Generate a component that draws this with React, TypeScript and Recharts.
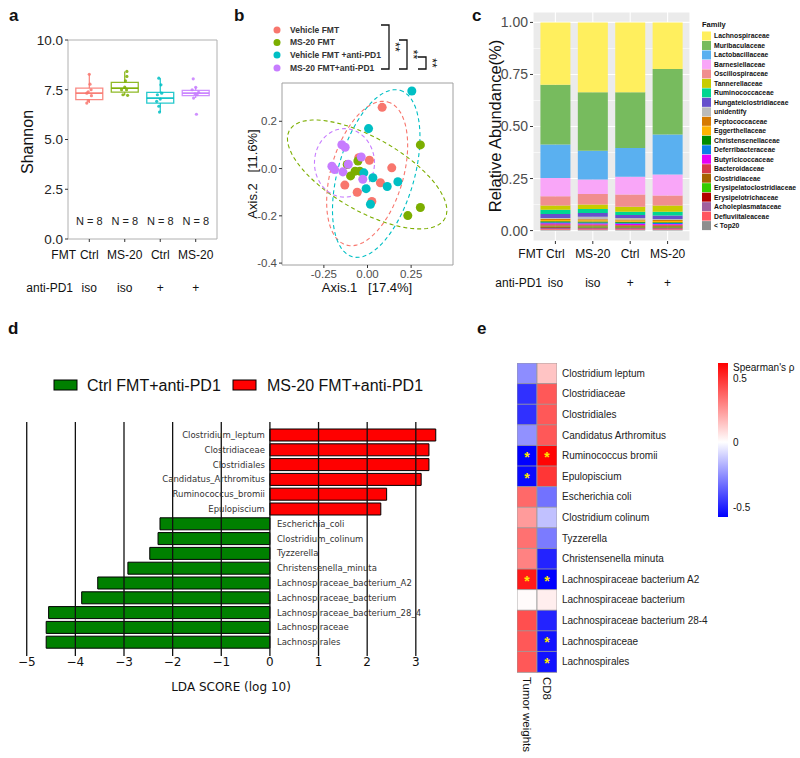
import React from 'react';
import {
  ComposedChart, ScatterChart, Scatter, BarChart, Bar, XAxis, YAxis, ZAxis,
  CartesianGrid, ReferenceArea, ReferenceLine, Cell, LabelList,
} from 'recharts';

const SANS = 'Liberation Sans, Arial, sans-serif';
const DEJAVU = 'DejaVu Sans, sans-serif';
const HUE = ['#F8766D', '#7CAE00', '#00BFC4', '#C77CFF'];

// ---------- a: Shannon diversity ----------
const fmtGroups = ['Ctrl', 'MS-20', 'Ctrl', 'MS-20'];
const pd1Groups = ['iso', 'iso', '+', '+'];
const shannonQ1 = [7.0, 7.38, 6.83, 7.2];
const shannonMed = [7.33, 7.58, 7.08, 7.33];
const shannonQ3 = [7.58, 7.87, 7.37, 7.47];
const shannonLo = [6.83, 7.22, 6.38, 7.08];
const shannonHi = [8.28, 8.42, 8.08, 7.62];
const groupN = [8, 8, 8, 8];
const shannonPts = [
  [8.28, 7.78, 7.5, 7.33, 7.2, 7.4, 6.95, 6.83],
  [8.42, 8.17, 7.95, 7.63, 7.5, 7.5, 7.25, 7.22],
  [8.08, 7.75, 7.33, 7.25, 7.03, 6.92, 6.67, 6.38],
  [8.05, 7.62, 7.5, 7.37, 7.3, 7.25, 7.08, 6.27],
];
const shannonJitter = [
  [0.0, 0.02, 0.05, -0.07, 0.06, -0.03, -0.03, -0.07],
  [0.06, 0.06, 0.02, 0.0, -0.09, 0.05, -0.05, 0.08],
  [-0.04, 0.02, 0.04, -0.08, 0.0, -0.1, -0.04, -0.02],
  [-0.07, 0.0, -0.1, 0.08, -0.02, 0.04, -0.06, 0.02],
];

// ---------- b: PCoA ----------
const pcoaGroups = ['Vehicle FMT', 'MS-20 FMT', 'Vehicle FMT +anti-PD1', 'MS-20 FMT+anti-PD1'];
const pcoaX = [
  [0.084, 0.011, 0.139, -0.13, -0.059, 0.074, 0.025, -0.05],
  [0.303, 0.303, 0.231, -0.055, -0.116, -0.097, -0.071, -0.044],
  [0.254, 0.006, -0.021, 0.031, -0.008, 0.017, 0.113, 0.174],
  [-0.147, -0.128, -0.204, -0.189, -0.11, -0.141, -0.036, -0.027],
];
const pcoaY = [
  [0.259, 0.035, 0.003, -0.07, -0.1, -0.06, -0.139, 0.046],
  [0.1, -0.165, -0.199, 0.032, 0.017, -0.031, -0.011, -0.011],
  [0.328, 0.169, -0.018, -0.039, -0.085, -0.151, -0.076, -0.056],
  [0.101, 0.09, 0.01, -0.004, 0.018, -0.014, 0.049, -0.045],
];
// dashed ellipses: centre and two conjugate half-axes, data units
const ellipseCentre = [[-0.002, -0.021], [-0.002, -0.025], [0.05, -0.021], [-0.132, 0.024]];
const ellipseU = [[0.118, 0.303], [0.448, -0.183], [0.137, 0.352], [0.172, 0]];
const ellipseV = [[0.2, -0.04], [-0.09, -0.14], [0.21, -0.045], [0, 0.145]];

// ---------- c: family composition ----------
const FAMILY = [
  'Lachnospiraceae', 'Muribaculaceae', 'Lactobacillaceae', 'Barnesiellaceae', 'Oscillospiraceae',
  'Tannerellaceae', 'Ruminococcaceae', 'Hungateiclostridiaceae', 'unidentify', 'Peptococcaceae',
  'Eggerthellaceae', 'Christensenellaceae', 'Deferribacteraceae', 'Butyricicoccaceae', 'Bacteroidaceae',
  'Clostridiaceae', 'Erysipelatoclostridiaceae', 'Erysipelotrichaceae', 'Acholeplasmataceae',
  'Defluviitaleaceae', '< Top20',
];
const FAMILY_COLORS = [
  '#FFEF5E', '#77BB5E', '#5AB0F0', '#F9A6F8', '#F08E8E', '#C8CC00', '#00D690', '#6650CC', '#BBBBBB',
  '#D67A00', '#FFB300', '#008B00', '#0A7FE6', '#E500F5', '#D63A4A', '#A56400', '#33CC00', '#B30000',
  '#A0609E', '#FF5560', '#8E8E8E',
];
const abundCtrlIso = [0.3, 0.287, 0.16, 0.088, 0.045, 0.02, 0.02, 0.019, 0.004, 0.006, 0.006, 0.005, 0.005, 0.004, 0.006, 0.005, 0.004, 0.004, 0.004, 0.004, 0.004];
const abundMs20Iso = [0.336, 0.28, 0.139, 0.069, 0.051, 0.021, 0.019, 0.018, 0.012, 0.005, 0.006, 0.005, 0.005, 0.005, 0.005, 0.004, 0.005, 0.004, 0.004, 0.004, 0.003];
const abundCtrlPd1 = [0.336, 0.267, 0.138, 0.086, 0.058, 0.024, 0.016, 0.014, 0.008, 0.005, 0.005, 0.005, 0.005, 0.006, 0.004, 0.004, 0.004, 0.004, 0.004, 0.004, 0.003];
const abundMs20Pd1 = [0.224, 0.315, 0.192, 0.101, 0.048, 0.029, 0.019, 0.016, 0.005, 0.005, 0.006, 0.004, 0.004, 0.004, 0.005, 0.004, 0.004, 0.004, 0.004, 0.004, 0.003];

// ---------- d: LEfSe ----------
const ldaTaxa = [
  'Clostridium_leptum', 'Clostridiaceae', 'Clostridiales', 'Candidatus_Arthromitus', 'Ruminococcus_bromii',
  'Epulopiscium', 'Escherichia_coli', 'Clostridium_colinum', 'Tyzzerella', 'Christensenella_minuta',
  'Lachnospiraceae_bacterium_A2', 'Lachnospiraceae_bacterium', 'Lachnospiraceae_bacterium_28_4',
  'Lachnospiraceae', 'Lachnospirales',
];
const ldaScores = [3.41, 3.27, 3.27, 3.11, 2.4, 2.28, -2.26, -2.3, -2.47, -2.92, -3.54, -3.87, -4.55, -4.6, -4.6];
const ldaTicks = [-5, -4, -3, -2, -1, 0, 1, 2, 3];

// ---------- e: Spearman heatmap ----------
const heatTaxa = [
  'Clostridium leptum', 'Clostridiaceae', 'Clostridiales', 'Candidatus Arthromitus', 'Ruminococcus bromii',
  'Epulopiscium', 'Escherichia coli', 'Clostridium colinum', 'Tyzzerella', 'Christensenella minuta',
  'Lachnospiraceae bacterium A2', 'Lachnospiraceae bacterium', 'Lachnospiraceae bacterium 28-4',
  'Lachnospiraceae', 'Lachnospirales',
];
const heatCols = ['Tumor weights', 'CD8'];
const rhoTumor = [-0.26, -0.47, -0.47, -0.25, -0.58, -0.56, 0.36, 0.24, 0.34, 0.3, 0.55, 0.01, 0.42, 0.4, 0.4];
const rhoCD8 = [0.14, 0.4, 0.4, 0.4, 0.6, 0.48, -0.32, -0.14, -0.3, -0.5, -0.58, 0.04, -0.5, -0.54, -0.54];
const sigTumor = [0, 0, 0, 0, 1, 1, 0, 0, 0, 0, 1, 0, 0, 0, 0];
const sigCD8 = [0, 0, 0, 0, 1, 0, 0, 0, 0, 0, 1, 0, 0, 1, 1];
const RHO_MAX = 0.61;
const RHO_MIN = -0.58;

function rhoColor(r: number) {
  const f = r >= 0 ? Math.min(r / RHO_MAX, 1) : Math.min(r / RHO_MIN, 1);
  const c = Math.round(255 * (1 - f));
  return r >= 0 ? `rgb(255,${c},${c})` : `rgb(${c},${c},255)`;
}

// ---------------------------------------------------------------
function TwoRowTick({ x, y, payload, dy1, dy2 }: any) {
  const i = typeof payload?.value === 'number' ? Math.round(payload.value) - 1 : payload?.index ?? 0;
  return (
    <g>
      <text x={x} y={y + dy1} textAnchor="middle" fontSize={12} fontFamily={SANS} fill="#111">{fmtGroups[i]}</text>
      <text x={x} y={y + dy2} textAnchor="middle" fontSize={12} fontFamily={SANS} fill="#111">{pd1Groups[i]}</text>
    </g>
  );
}

function ShannonChart() {
  const half = 0.38;
  return (
    <ComposedChart width={230} height={300} margin={{ top: 40, right: 13, left: 18, bottom: 1 }}>
      <XAxis type="number" dataKey="x" domain={[0.4, 4.6]} ticks={[1, 2, 3, 4]} allowDataOverflow
        axisLine={false} tickSize={3} tickLine={{ stroke: '#333' }} height={60} interval={0}
        tick={<TwoRowTick dy1={15} dy2={48} />} />
      <YAxis type="number" dataKey="y" domain={[0, 10]} ticks={[0, 2.5, 5, 7.5, 10]} allowDataOverflow
        tickFormatter={(v: number) => v.toFixed(1)} width={50} axisLine={false} tickSize={3}
        tickLine={{ stroke: '#333' }} tick={{ fontSize: 13.5, fill: '#222', fontFamily: SANS }} />
      <ReferenceArea x1={0.4} x2={4.6} y1={0} y2={10} fill="none" stroke="#b0b0b0" strokeWidth={1} />
      {fmtGroups.map((_, i) => (
        <ReferenceArea key={`box${i}`} x1={i + 1 - half} x2={i + 1 + half} y1={shannonQ1[i]} y2={shannonQ3[i]}
          fill="none" fillOpacity={0} stroke={HUE[i]} strokeOpacity={0.85} strokeWidth={1.3} />
      ))}
      {fmtGroups.map((_, i) => (
        <ReferenceLine key={`med${i}`} segment={[{ x: i + 1 - half, y: shannonMed[i] }, { x: i + 1 + half, y: shannonMed[i] }]}
          stroke={HUE[i]} strokeWidth={1.6} />
      ))}
      {fmtGroups.map((_, i) => (
        <ReferenceLine key={`wh${i}`} segment={[{ x: i + 1, y: shannonQ3[i] }, { x: i + 1, y: shannonHi[i] }]}
          stroke={HUE[i]} strokeWidth={1.1} />
      ))}
      {fmtGroups.map((_, i) => (
        <ReferenceLine key={`wl${i}`} segment={[{ x: i + 1, y: shannonLo[i] }, { x: i + 1, y: shannonQ1[i] }]}
          stroke={HUE[i]} strokeWidth={1.1} />
      ))}
      {shannonPts.map((vals, i) => (
        <Scatter key={`pts${i}`} isAnimationActive={false}
          data={vals.map((v, j) => ({ x: i + 1 + shannonJitter[i][j], y: v }))}
          shape={(p: any) => <circle cx={p.cx} cy={p.cy} r={1.6} fill={HUE[i]} fillOpacity={0.85} />} />
      ))}
      <Scatter isAnimationActive={false} data={groupN.map((n, i) => ({ x: i + 1, y: 0.9, n }))}
        shape={(p: any) => (
          <text x={p.cx} y={p.cy} dy="0.35em" textAnchor="middle" fontSize={11} fontFamily={SANS} fill="#222">
            {`N = ${p.payload.n}`}
          </text>
        )} />
    </ComposedChart>
  );
}

function PcoaChart() {
  const ellipses = ellipseCentre.map((c, g) => {
    const pts = [];
    for (let k = 0; k <= 72; k++) {
      const t = (k / 72) * Math.PI * 2;
      pts.push({
        x: c[0] + ellipseU[g][0] * Math.cos(t) + ellipseV[g][0] * Math.sin(t),
        y: c[1] + ellipseU[g][1] * Math.cos(t) + ellipseV[g][1] * Math.sin(t),
      });
    }
    return pts;
  });
  return (
    <ScatterChart width={240} height={240} margin={{ top: 23, right: 17, left: 0, bottom: 15 }}>
      <XAxis type="number" dataKey="x" domain={[-0.49, 0.49]} ticks={[-0.25, 0, 0.25]} allowDataOverflow
        tickFormatter={(v: number) => v.toFixed(2)} height={20} axisLine={false} tickSize={3}
        tickLine={{ stroke: '#333' }} tick={{ fontSize: 11.5, fill: '#4D4D4D', fontFamily: SANS }} />
      <YAxis type="number" dataKey="y" domain={[-0.408, 0.362]} ticks={[-0.4, -0.2, 0, 0.2]} allowDataOverflow
        tickFormatter={(v: number) => v.toFixed(1)} width={52} axisLine={false} tickSize={3}
        tickLine={{ stroke: '#333' }} tick={{ fontSize: 11.5, fill: '#4D4D4D', fontFamily: SANS }} />
      <ZAxis range={[52, 52]} />
      <ReferenceArea x1={-0.49} x2={0.49} y1={-0.408} y2={0.362} fill="none" stroke="#a0a0a0" />
      {ellipses.map((pts, g) => (
        <Scatter key={`ell${g}`} data={pts} isAnimationActive={false} shape={() => <g />}
          line={{ stroke: HUE[g], strokeWidth: 1.1, strokeDasharray: '4 3' }} />
      ))}
      {pcoaX.map((xs, g) => (
        <Scatter key={`grp${g}`} isAnimationActive={false} fill={HUE[g]}
          data={xs.map((x, j) => ({ x, y: pcoaY[g][j] }))} />
      ))}
    </ScatterChart>
  );
}

function CompositionChart() {
  const groupIds = ['g1', 'g2', 'g3', 'g4'];
  const columns = [abundCtrlIso, abundMs20Iso, abundCtrlPd1, abundMs20Pd1];
  const rows = groupIds.map((id, gi) => {
    const row: any = { g: id };
    FAMILY.forEach((_, fi) => { row[`f${fi}`] = columns[gi][fi]; });
    return row;
  });
  const stackOrder = FAMILY.map((_, i) => i).reverse();
  return (
    <BarChart width={260} height={300} data={rows} margin={{ top: 12, right: 10, left: 0, bottom: 4 }} barCategoryGap="10%">
      <CartesianGrid fill="#EBEBEB" stroke="#ffffff" strokeWidth={0.6} vertical={false}
        horizontalValues={[0.125, 0.375, 0.625, 0.875]} />
      <CartesianGrid stroke="#ffffff" strokeWidth={1.1} />
      <XAxis dataKey="g" padding={{ left: 3.7, right: 3.7 }} axisLine={false} tickSize={3}
        tickLine={{ stroke: '#333' }} height={55} interval={0} tick={<TwoRowTick dy1={12} dy2={41} />} />
      <YAxis domain={[-0.05, 1.05]} ticks={[0, 0.25, 0.5, 0.75, 1]} allowDataOverflow
        tickFormatter={(v: number) => v.toFixed(2)} width={93} axisLine={false} tickSize={3}
        tickLine={{ stroke: '#333' }} tick={{ fontSize: 14, fill: '#4D4D4D', fontFamily: SANS }} />
      {stackOrder.map((fi) => (
        <Bar key={fi} dataKey={`f${fi}`} stackId="fam" fill={FAMILY_COLORS[fi]} isAnimationActive={false} />
      ))}
    </BarChart>
  );
}

function ldaLabel(props: any) {
  const { index, value } = props;
  const x = Number(props.x), y = Number(props.y), w = Number(props.width), h = Number(props.height);
  const score = ldaScores[index];
  const zero = score > 0 ? Math.min(x, x + w) : Math.max(x, x + w);
  return (
    <text x={score > 0 ? zero - 5 : zero + 7} y={y + h / 2} dy="0.35em" textAnchor={score > 0 ? 'end' : 'start'}
      fontSize={8.5} fontFamily={DEJAVU} fill="#333">{value}</text>
  );
}

function LefseChart() {
  const rows = ldaTaxa.map((taxon, i) => ({ taxon, lda: ldaScores[i] }));
  return (
    <BarChart layout="vertical" width={460} height={300} data={rows} barSize={12}
      margin={{ top: 22, right: 15, left: 17, bottom: 24 }}>
      <XAxis type="number" domain={[-5.2, 3.6]} ticks={ldaTicks} allowDataOverflow axisLine={false}
        tickLine={false} tickSize={0} tickMargin={1} height={20} interval={0}
        tickFormatter={(v: number) => (v < 0 ? `\u2212${Math.abs(v)}` : `${v}`)}
        tick={{ fontSize: 12, fill: '#111', fontFamily: DEJAVU }} />
      <YAxis type="category" dataKey="taxon" hide width={0} padding={{ top: 6, bottom: 6 }} />
      <Bar dataKey="lda" stroke="#000" strokeWidth={1} isAnimationActive={false}>
        {rows.map((r, i) => <Cell key={i} fill={r.lda > 0 ? '#FF0000' : '#008000'} />)}
        <LabelList dataKey="taxon" content={ldaLabel} />
      </Bar>
      {ldaTicks.map((t) => <ReferenceLine key={t} x={t} stroke="#111" strokeWidth={1.3} />)}
    </BarChart>
  );
}

function starLabel(props: any) {
  const x = Number(props.x), y = Number(props.y), w = Number(props.width), h = Number(props.height);
  if (!props.value) return null;
  return (
    <text x={x + w / 2} y={y + h / 2 + 6} textAnchor="middle" fontSize={14} fontWeight="bold"
      fontFamily={SANS} fill="#FFE600">*</text>
  );
}

function ColTick({ x, y, payload }: any) {
  const i = payload?.index ?? 0;
  return (
    <text transform={`translate(${x},${y}) rotate(90)`} textAnchor="start" dominantBaseline="central"
      fontSize={11.5} fontFamily={SANS} fill="#111">{heatCols[i]}</text>
  );
}

function HeatmapChart() {
  const rows = heatTaxa.map((taxon, i) => ({ taxon, tw: 1, cd8: 1, sT: sigTumor[i], sC: sigCD8[i] }));
  return (
    <BarChart layout="vertical" width={260} height={394} data={rows} barCategoryGap={0}
      margin={{ top: 0, right: 0, left: 0, bottom: 0 }}>
      <XAxis type="number" domain={[0, 2]} ticks={[0.5, 1.5]} allowDataOverflow axisLine={false}
        tickLine={false} tickSize={0} tickMargin={5} height={85} interval={0} tick={<ColTick />} />
      <YAxis type="category" dataKey="taxon" orientation="right" width={220} axisLine={false}
        tickLine={false} tickSize={0} tickMargin={5} interval={0}
        tick={{ fontSize: 10, fill: '#222', fontFamily: SANS }} />
      <Bar dataKey="tw" stackId="h" isAnimationActive={false}>
        {rows.map((_, i) => <Cell key={i} fill={rhoColor(rhoTumor[i])} stroke="#9a9a9a" strokeWidth={0.8} />)}
        <LabelList dataKey="sT" content={starLabel} />
      </Bar>
      <Bar dataKey="cd8" stackId="h" isAnimationActive={false}>
        {rows.map((_, i) => <Cell key={i} fill={rhoColor(rhoCD8[i])} stroke="#9a9a9a" strokeWidth={0.8} />)}
        <LabelList dataKey="sC" content={starLabel} />
      </Bar>
    </BarChart>
  );
}

function Overlay() {
  const lbl = { fontFamily: SANS, fill: '#111' } as const;
  const brackets = [
    { x: 389, top: 25, bottom: 69 },
    { x: 407, top: 40, bottom: 69 },
    { x: 426, top: 57, bottom: 69 },
  ];
  const legendY = [30, 42.5, 55, 68];
  return (
    <svg width={800} height={758} style={{ position: 'absolute', left: 0, top: 0, pointerEvents: 'none' }}>
      {/* panel letters */}
      <text x={9} y={21} fontSize={17} fontWeight="bold" {...lbl}>a</text>
      <text x={234} y={21} fontSize={17} fontWeight="bold" {...lbl}>b</text>
      <text x={472} y={21} fontSize={17} fontWeight="bold" {...lbl}>c</text>
      <text x={8} y={334} fontSize={17} fontWeight="bold" {...lbl}>d</text>
      <text x={477} y={334} fontSize={17} fontWeight="bold" {...lbl}>e</text>

      {/* a */}
      <text transform="translate(27,142) rotate(-90)" textAnchor="middle" dominantBaseline="central" fontSize={16} {...lbl}>Shannon</text>
      <text x={76} y={259} textAnchor="end" fontSize={12} {...lbl}>FMT</text>
      <text x={73} y={292} textAnchor="end" fontSize={12} {...lbl}>anti-PD1</text>

      {/* b */}
      {pcoaGroups.map((g, i) => (
        <g key={g}>
          <circle cx={277} cy={legendY[i]} r={3.5} fill={HUE[i]} />
          <text x={290} y={legendY[i]} dy="0.35em" fontSize={8.5} fontWeight={600} fontFamily={SANS} fill="#333">{g}</text>
        </g>
      ))}
      {brackets.map((b, i) => (
        <g key={i}>
          <path d={`M${b.x - 8},${b.top} H${b.x} V${b.bottom} H${b.x - 8}`} fill="none" stroke="#111" strokeWidth={1.3} />
          <text transform={`translate(${b.x + 6},${(b.top + b.bottom) / 2}) rotate(90)`} textAnchor="middle"
            dominantBaseline="central" fontSize={12} {...lbl}>**</text>
        </g>
      ))}
      <text x={367} y={287} textAnchor="middle" dominantBaseline="central" fontSize={13} style={{ whiteSpace: 'pre' }} {...lbl}>{'Axis.1   [17.4%]'}</text>
      <text transform="translate(252,174) rotate(-90)" textAnchor="middle" dominantBaseline="central" fontSize={13} style={{ whiteSpace: 'pre' }} {...lbl}>{'Axis.2   [11.6%]'}</text>

      {/* c */}
      <text transform="translate(495,126) rotate(-90)" textAnchor="middle" dominantBaseline="central" fontSize={16.5} {...lbl}>Relative Abundance(%)</text>
      <text x={543} y={258} textAnchor="end" fontSize={12} {...lbl}>FMT</text>
      <text x={542} y={287} textAnchor="end" fontSize={12} {...lbl}>anti-PD1</text>
      <text x={702} y={27} fontSize={7.5} fontWeight="bold" {...lbl}>Family</text>
      {FAMILY.map((f, i) => (
        <g key={f}>
          <rect x={702} y={31.5 + i * 9.48} width={9} height={9} fill={FAMILY_COLORS[i]} />
          <text x={714} y={36 + i * 9.48} dy="0.35em" fontSize={6.8} fontWeight="bold" {...lbl}>{f}</text>
        </g>
      ))}

      {/* d */}
      <rect x={54} y={380} width={23} height={10} fill="#008000" stroke="#000" strokeWidth={1} />
      <text x={87} y={391} fontSize={16} {...lbl}>Ctrl FMT+anti-PD1</text>
      <rect x={233} y={380} width={23} height={10} fill="#FF0000" stroke="#000" strokeWidth={1} />
      <text x={267} y={391} fontSize={16} {...lbl}>MS-20 FMT+anti-PD1</text>
      <text x={231} y={687} textAnchor="middle" dominantBaseline="central" fontSize={12} fontFamily={DEJAVU} fill="#111">LDA SCORE (log 10)</text>

      {/* e colour bar */}
      <defs>
        <linearGradient id="rhoGrad" x1="0" y1="0" x2="0" y2="1">
          <stop offset="0" stopColor="#FF0000" />
          <stop offset="0.513" stopColor="#FFFFFF" />
          <stop offset="1" stopColor="#0000FF" />
        </linearGradient>
      </defs>
      <rect x={718} y={363} width={10} height={154} fill="url(#rhoGrad)" />
      <text x={733} y={367} dominantBaseline="central" fontSize={10} {...lbl}>Spearman's ρ</text>
      <text x={733} y={378} dominantBaseline="central" fontSize={10} {...lbl}>0.5</text>
      <text x={733} y={442} dominantBaseline="central" fontSize={10} {...lbl}>0</text>
      <text x={733} y={507} dominantBaseline="central" fontSize={10} {...lbl}>-0.5</text>
    </svg>
  );
}

export default function App() {
  return (
    <div style={{ position: 'absolute', left: 0, top: 0, width: 800, height: 758, background: '#fff', overflow: 'hidden' }}>
      <div style={{ position: 'absolute', left: 0, top: 0 }}><ShannonChart /></div>
      <div style={{ position: 'absolute', left: 230, top: 60 }}><PcoaChart /></div>
      <div style={{ position: 'absolute', left: 440, top: 0 }}><CompositionChart /></div>
      <div style={{ position: 'absolute', left: 0, top: 400 }}><LefseChart /></div>
      <div style={{ position: 'absolute', left: 517, top: 363 }}><HeatmapChart /></div>
      <Overlay />
    </div>
  );
}
